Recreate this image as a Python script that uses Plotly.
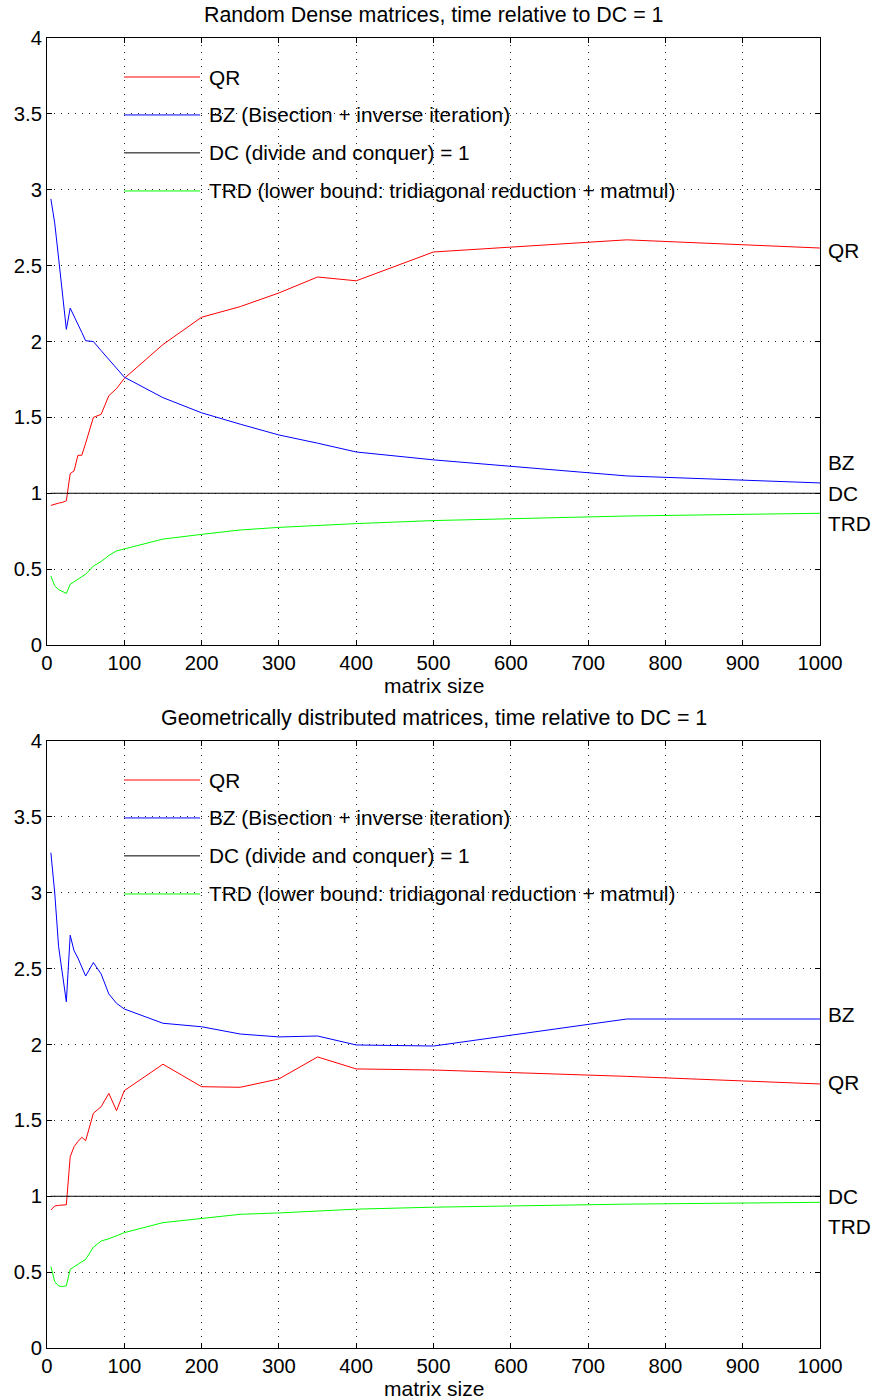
import plotly.graph_objects as go
from plotly.subplots import make_subplots

# ---------------- data ----------------
sizes = [5, 10, 15, 20, 25, 30, 35, 40, 45, 50, 60, 70, 80, 90, 100,
         150, 200, 250, 300, 350, 400, 500, 750, 1000]

dense_qr = [0.92, 0.93, 0.935, 0.94, 0.95, 1.13, 1.147, 1.25, 1.25, 1.33, 1.50, 1.52,
            1.643, 1.69, 1.757, 1.98, 2.16, 2.23, 2.32, 2.425, 2.40, 2.59, 2.67, 2.616]
dense_bz = [2.94, 2.78, 2.55, 2.31, 2.08, 2.22, 2.17, 2.12, 2.06, 2.005, 2.0, 1.94,
            1.88, 1.82, 1.765, 1.63, 1.53, 1.455, 1.384, 1.33, 1.272, 1.22, 1.114, 1.068]
dense_dc = [1.0] * len(sizes)
dense_trd = [0.455, 0.39, 0.365, 0.35, 0.34, 0.40, 0.415, 0.43, 0.45, 0.466, 0.52, 0.55,
             0.59, 0.62, 0.633, 0.698, 0.729, 0.758, 0.775, 0.79, 0.80, 0.82, 0.85, 0.868]

geo_qr = [0.909, 0.936, 0.94, 0.942, 0.944, 1.26, 1.327, 1.36, 1.389, 1.366, 1.547, 1.59,
          1.678, 1.564, 1.696, 1.87, 1.722, 1.718, 1.773, 1.918, 1.839, 1.832, 1.79, 1.74]
geo_bz = [3.264, 3.0, 2.645, 2.46, 2.282, 2.72, 2.618, 2.57, 2.513, 2.451, 2.54, 2.465,
          2.333, 2.271, 2.234, 2.14, 2.117, 2.069, 2.05, 2.056, 1.997, 1.99, 2.168, 2.168]
geo_dc = [1.0] * len(sizes)
geo_trd = [0.536, 0.437, 0.409, 0.405, 0.41, 0.518, 0.535, 0.55, 0.57, 0.584, 0.664, 0.705,
           0.72, 0.738, 0.76, 0.826, 0.852, 0.881, 0.89, 0.90, 0.915, 0.928, 0.948, 0.96]

series_names = ["QR", "BZ (Bisection + inverse iteration)",
                "DC (divide and conquer) = 1",
                "TRD (lower bound: tridiagonal reduction + matmul)"]
short_names = ["QR", "BZ", "DC", "TRD"]
colors = ["#ff0000", "#0000ff", "#000000", "#00ff00"]

titles = ["Random Dense matrices, time relative to DC = 1",
          "Geometrically distributed matrices, time relative to DC = 1"]
x_title = "matrix size"

# y positions of the end labels (text placement next to each curve)
dense_label_y = [2.6, 1.2, 1.0, 0.8]
geo_label_y = [1.75, 2.2, 1.0, 0.8]
# legend rows (y values in data units)
legend_rows = [3.743, 3.493, 3.243, 2.992]

panels = [
    ([dense_qr, dense_bz, dense_dc, dense_trd], dense_label_y),
    ([geo_qr, geo_bz, geo_dc, geo_trd], geo_label_y),
]

FONT = "Liberation Sans, Arial, sans-serif"
FS_LEG = 20.8
FS_TITLE = 21.4
FS_XT = 21
FS_TICK = 20.3
W, H = 872, 1399
L, R, T, B = 47, 52, 38, 51
plot_h = 607
total_h = H - T - B

fig = make_subplots(rows=2, cols=1, vertical_spacing=0.0)

for p, (series, label_y) in enumerate(panels):
    row = p + 1
    xr = "x" if p == 0 else "x2"
    yr = "y" if p == 0 else "y2"
    for s, (vals, name, col) in enumerate(zip(series, series_names, colors)):
        fig.add_trace(go.Scatter(x=sizes, y=vals, mode="lines", name=name,
                                 line=dict(color=col, width=1), showlegend=False),
                      row=row, col=1)
    # custom legend
    for s, (name, col) in enumerate(zip(series_names, colors)):
        fig.add_shape(type="line", xref=xr + " domain", yref=yr,
                      x0=0.0996, x1=0.198, y0=legend_rows[s], y1=legend_rows[s],
                      line=dict(color=col, width=1))
        fig.add_annotation(xref=xr + " domain", yref=yr, x=0.207, y=legend_rows[s],
                           text=name, showarrow=False, xanchor="left", yanchor="middle",
                           font=dict(family=FONT, size=FS_LEG, color="black"))
    # end labels
    for s, nm in enumerate(short_names):
        fig.add_annotation(xref=xr + " domain", yref=yr, x=1.0, xshift=6, y=label_y[s],
                           text=nm, showarrow=False, xanchor="left", yanchor="middle",
                           font=dict(family=FONT, size=FS_LEG, color="black"))
    # title
    fig.add_annotation(xref=xr + " domain", yref=yr + " domain", x=0.5, y=1.0, yshift=23,
                       text=titles[p], showarrow=False, xanchor="center", yanchor="middle",
                       font=dict(family=FONT, size=FS_TITLE, color="black"))
    # x axis title
    fig.add_annotation(xref=xr + " domain", yref=yr + " domain", x=0.5, y=0.0, yshift=-40,
                       text=x_title, showarrow=False, xanchor="center", yanchor="middle",
                       font=dict(family=FONT, size=FS_XT, color="black"))

d2 = plot_h / total_h
axis_common = dict(showline=True, linecolor="black", linewidth=1, mirror="ticks",
                   ticks="inside", ticklen=5, tickcolor="black",
                   showgrid=True, gridcolor="rgba(0,0,0,0.85)", gridwidth=1,
                   griddash="1px,6px", zeroline=False, automargin=False,
                   tickfont=dict(family=FONT, size=FS_TICK, color="black"))

fig.update_xaxes(range=[0, 1000], dtick=100, tick0=0, **axis_common)
fig.update_yaxes(range=[0, 4], dtick=0.5, tick0=0, **axis_common)

fig.update_layout(
    width=W, height=H,
    margin=dict(l=L, r=R, t=T, b=B),
    plot_bgcolor="white", paper_bgcolor="white",
    showlegend=False, hovermode=False,
    font=dict(family=FONT, size=FS_LEG, color="black"),
    xaxis=dict(domain=[0, 1]), xaxis2=dict(domain=[0, 1]),
    yaxis=dict(domain=[1 - d2, 1]),
    yaxis2=dict(domain=[0, d2]),
)

fig.write_html(
    "out.html",
    config={"displayModeBar": False, "staticPlot": True},
    post_script="document.body.style.margin='0px';"
                "document.body.style.overflow='hidden';"
                "document.documentElement.style.overflow='hidden';",
)
